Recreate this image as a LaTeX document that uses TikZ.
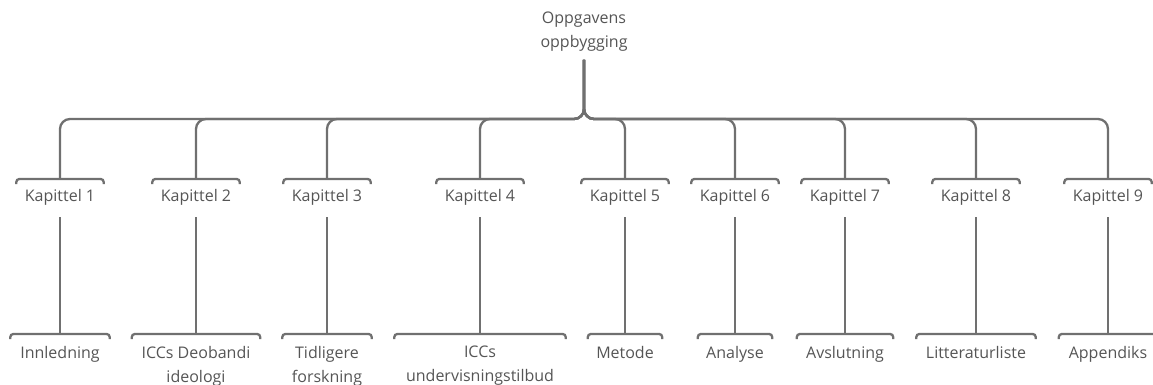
\documentclass[tikz,border=0pt]{standalone}
\usepackage{fontspec}
\setmainfont{Open Sans}
\usepackage{xcolor}
\usepackage{tikz}
\usetikzlibrary{calc}

\definecolor{linegray}{HTML}{707070}
\definecolor{textgray}{HTML}{555555}
\tikzset{
  conn/.style={draw=linegray, line width=2.3pt, rounded corners=10pt},
  brak/.style={draw=linegray, line width=2.3pt, rounded corners=3pt},
  chap/.style={text=textgray, anchor=north, minimum width=87pt, inner xsep=0pt, inner ysep=10pt},
  leaf/.style={text=textgray, anchor=north, align=center, inner xsep=0pt, inner ysep=12pt}
}

\begin{document}
\begin{tikzpicture}[x=1pt,y=-1pt,font=\fontsize{16}{24}\selectfont]
    \useasboundingbox (0,0) rectangle (1153,385);
    \node[text=textgray, align=center, inner sep=0pt] (root) at (584,32) {Oppgavens\\oppbygging};
    \coordinate (hub) at (584,119);
    \foreach \i/\x/\w/\txt in {1/60/99/Innledning,2/196/128/{ICCs Deobandi\\ideologi},3/327/89/{Tidligere\\forskning},4/480/171/{ICCs\\undervisningstilbud},5/625/74/Metode,6/735/74/Analyse,7/845/96/Avslutning,8/976/119/Litteraturliste,9/1108/98/Appendiks} {
      \node[chap] (k\i) at (\x,179) {Kapittel \i};
      \node[leaf, minimum width=\w pt] (l\i) at (\x,334) {\txt};
      \draw[brak] ([yshift=-5pt]k\i.north west) |- (k\i.north) -| ([yshift=-5pt]k\i.north east);
      \draw[brak] ([yshift=-5pt]l\i.north west) |- (l\i.north) -| ([yshift=-5pt]l\i.north east);
      \draw[conn] ([yshift=-8pt]root.south) -- (hub) -| (k\i.north);
      \draw[conn] ([yshift=-2pt]k\i.south) -- (l\i.north);
    }
  \end{tikzpicture}
\end{document}
